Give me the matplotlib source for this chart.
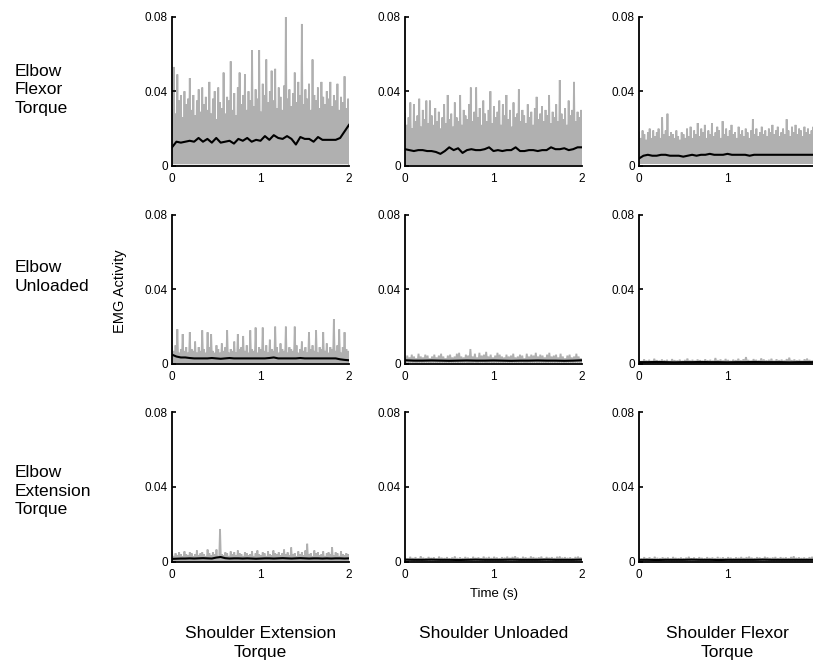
import numpy as np
import matplotlib
matplotlib.use("Agg")
import matplotlib.pyplot as plt

plt.rcParams['font.family'] = ['Liberation Sans', 'DejaVu Sans']

# ---------------- data (EMG activity, in units of 0.001) ----------------
row_labels = ["Elbow\nFlexor\nTorque", "Elbow\nUnloaded", "Elbow\nExtension\nTorque"]
col_labels = ["Shoulder Extension\nTorque", "Shoulder Unloaded", "Shoulder Flexor\nTorque"]
x_ticks = [0, 1, 2]
x_ticks_visible = [[0, 1, 2], [0, 1, 2], [0, 1]]   # the right column is cropped at 1.97 s
y_ticks = [0, 0.04, 0.08]
y_tick_labels = ["0", "0.04", "0.08"]

# gray single-trial envelope peaks (x spread evenly over 0..2 s)
peaks_00 = [30, 53, 28, 49, 35, 38, 26, 40, 33, 36, 47, 30, 38, 27, 35, 41, 29, 42, 33, 37,
            30, 45, 28, 36, 40, 25, 42, 34, 31, 50, 28, 37, 35, 56, 30, 39, 27, 42, 50, 33,
            38, 49, 30, 40, 35, 62, 32, 41, 36, 62, 29, 44, 38, 57, 34, 40, 51, 35, 52, 31,
            42, 37, 30, 43, 80, 36, 41, 32, 39, 50, 34, 45, 38, 76, 33, 41, 36, 44, 30, 57,
            38, 35, 42, 31, 45, 37, 33, 40, 36, 45, 32, 38, 35, 44, 30, 37, 34, 48, 31, 36]
peaks_01 = [28, 22, 26, 34, 20, 33, 24, 27, 36, 21, 30, 25, 35, 23, 35, 27, 22, 31, 24, 29,
            20, 26, 33, 23, 38, 25, 28, 21, 34, 26, 24, 38, 22, 30, 27, 25, 33, 42, 24, 29,
            42, 26, 31, 22, 35, 28, 24, 30, 40, 23, 32, 26, 29, 35, 22, 33, 27, 38, 25, 30,
            21, 34, 26, 28, 41, 24, 30, 27, 23, 33, 26, 29, 22, 31, 37, 25, 28, 32, 24, 30,
            27, 38, 23, 29, 26, 33, 24, 46, 28, 25, 31, 22, 35, 27, 30, 45, 24, 29, 26, 30]
peaks_02 = [18, 15, 19, 17, 14, 18, 20, 15, 19, 16, 18, 20, 15, 26, 17, 19, 28, 16, 18, 17,
            15, 19, 16, 14, 18, 17, 15, 20, 16, 21, 15, 19, 17, 23, 16, 20, 18, 22, 15, 19,
            17, 23, 16, 18, 21, 19, 15, 24, 17, 20, 16, 19, 22, 17, 18, 15, 21, 17, 19, 16,
            20, 18, 15, 19, 25, 17, 20, 16, 18, 21, 17, 19, 16, 20, 18, 22, 17, 19, 21, 16,
            18, 20, 17, 25, 19, 16, 21, 18, 22, 17, 20, 19, 16, 21, 18, 20, 17, 19, 21, 18]
peaks_10 = [9, 7, 10, 18.6, 6, 8, 16, 7, 9, 6, 17, 8, 7, 12, 6, 9, 7, 18, 8, 6,
            17, 9, 16, 7, 6, 10, 8, 6, 11, 7, 9, 18, 6, 8, 7, 12, 6, 16, 8, 9,
            15, 7, 10, 6, 18, 8, 7, 19.5, 6, 9, 8, 19.5, 7, 10, 6, 13, 8, 7, 20, 9,
            6, 11, 8, 7, 20, 6, 9, 8, 7, 20, 10, 6, 8, 12, 7, 9, 6, 17, 8, 10,
            7, 18, 6, 9, 8, 17, 7, 11, 6, 9, 8, 24, 7, 10, 18.5, 6, 9, 17, 8, 7]
peaks_11 = [3, 4.5, 3.5, 5, 4, 3, 5.5, 4, 3.5, 5, 4.5, 3, 4, 5, 3.5, 4.5, 5.5, 4, 3, 4.5,
            5, 3.5, 4, 5.5, 6, 4, 3.5, 5, 4.5, 8, 4, 5.5, 3.5, 6, 4.5, 5, 6.5, 4, 5, 3.5,
            4.5, 6, 5, 4, 3.5, 5, 4, 4.5, 5.5, 3.5, 4, 5, 4.5, 3, 5.5, 4, 5, 4.5, 6, 4,
            5, 4.5, 3.5, 5, 6, 4, 4.5, 5, 3.5, 5.5, 4, 3, 4.5, 5, 3.5, 4, 5.5, 4, 3]
peaks_12 = [2, 1.5, 2.5, 1.8, 2.2, 1.6, 2.8, 2, 1.7, 2.4, 1.9, 2.2, 1.5, 2.6, 2, 1.8, 2.3, 1.6,
            2.1, 2.9, 1.8, 2.2, 1.7, 2.4, 2, 1.6, 2.5, 1.9, 2.2, 1.7, 3.2, 2, 2.4, 1.8, 2.7,
            2.1, 1.6, 2.3, 2, 2.8, 1.9, 2.5, 3.7, 2.1, 1.7, 2.6, 2.2, 1.8, 3, 2.4, 1.9, 2.2,
            2.8, 1.7, 2.5, 2, 2.3, 1.8, 2.6, 3.4, 2, 2.4, 1.9, 2.2, 1.7, 2.5, 2.9, 2.1, 1.8, 2.3]
peaks_20 = [5, 3, 4.5, 3.5, 5, 4, 3, 5.5, 4, 3.5, 5, 4.5, 3, 4, 6, 3.5, 4.5, 5, 4, 3,
            6.5, 4.5, 3.5, 5, 4, 6.5, 3, 17.5, 4, 3.5, 5, 4.5, 3, 5.5, 4, 5, 3.5, 6, 4.5, 4,
            3, 5, 4.5, 3.5, 4, 5.5, 3, 4.5, 6, 4, 3.5, 5, 4.5, 3, 5.5, 4, 3.5, 6, 4.5, 4,
            5, 3.5, 4.5, 6.5, 4, 5, 3.5, 7.6, 4, 4.5, 3, 5.5, 4, 5, 3.5, 6, 9.6, 4, 4.5, 3,
            6, 4.5, 5, 3.5, 4, 5.5, 3, 4.5, 5, 4, 7.7, 3.5, 5, 4.5, 3, 5.5, 4, 3.5, 4.5, 4]
peaks_21 = [2.2, 1.6, 2.6, 1.9, 2.4, 1.7, 2.9, 2.1, 1.8, 2.5, 2, 2.3, 1.6, 2.7, 2.1, 1.9, 2.4,
            1.7, 2.2, 2.8, 1.9, 2.3, 1.8, 2.5, 2.1, 1.7, 2.6, 2, 2.3, 1.8, 2.7, 2.1, 2.5, 1.9,
            2.6, 2.2, 1.7, 2.4, 2.1, 2.7, 2, 2.5, 2.9, 2.2, 1.8, 2.6, 2.3, 1.9, 2.8, 2.4, 2,
            2.3, 2.7, 1.8, 2.5, 2.1, 2.4, 1.9, 2.6, 2.8, 2.1, 2.4, 2, 2.3, 1.8, 2.5, 2.7, 2.2]
peaks_22 = [2, 1.6, 2.4, 1.8, 2.3, 1.7, 2.6, 2, 1.8, 2.3, 1.9, 2.2, 1.6, 2.5, 2, 1.8, 2.2,
            1.7, 2.1, 2.6, 1.8, 2.2, 1.7, 2.4, 2, 1.7, 2.4, 1.9, 2.2, 1.8, 2.5, 2, 2.3, 1.8,
            2.4, 2.1, 1.7, 2.3, 2, 2.5, 1.9, 2.4, 2.7, 2.1, 1.8, 2.4, 2.2, 1.8, 2.6, 2.3, 1.9,
            2.2, 2.5, 1.8, 2.4, 2, 2.3, 1.8, 2.5, 2.9, 2, 2.3, 1.9, 2.2, 1.8, 2.4, 2.6, 2.1]

# lower edge of the gray trials
floor_vals = [[1.0, 0.8, 1.2],
              [0.6, 0.5, 0.4],
              [0.5, 0.4, 0.4]]

# black mean trace (x spread evenly over 0..2 s)
mean_00 = [10, 13, 12.5, 13, 13.5, 13, 15, 13, 14.5, 12.5, 15, 12.5, 13, 13.5, 12, 14.5, 13.5,
           15, 13, 14, 13.5, 16, 14, 16.5, 15, 14.5, 16, 14.5, 11.5, 15.5, 14.5, 14.5, 13,
           15.5, 14, 14, 14, 14, 15, 18.5, 22]
mean_01 = [9, 8.5, 8, 8.5, 8.5, 8, 8, 7.5, 6.5, 8, 10, 8.5, 9.5, 7, 8.5, 9, 8.5, 8.5, 9, 10,
           8, 8.5, 8, 8.5, 8.5, 10, 8, 8, 8.5, 8.5, 8, 8.5, 8.5, 10, 9, 9, 9.5, 8.5, 9, 10, 10]
mean_02 = [4, 5.5, 6, 5.5, 5.5, 6, 6, 5.5, 5.5, 5.5, 5, 5.5, 6, 5.5, 6, 6, 6.5, 6, 6, 6, 6.5,
           6, 6, 6, 6, 5.5, 6, 6, 6, 6, 6, 6, 6, 6, 6, 6, 6, 6, 6, 6, 6]
mean_10 = [5, 4, 3.5, 3.5, 3.2, 3, 3, 3, 3, 3.2, 3, 2.8, 3, 3.2, 3, 3, 3, 3, 3, 3, 3, 3, 3.2,
           3.5, 3, 3, 3, 3, 3, 3.2, 3, 3, 3, 3, 3, 3, 3, 3, 2.5, 2.2, 2]
mean_11 = [2, 1.8, 1.8, 1.9, 1.8, 1.7, 1.8, 1.9, 1.8, 1.8, 1.9, 1.8, 1.7, 1.8, 1.8, 1.9, 1.8,
           1.8, 1.7, 1.8, 2]
mean_12 = [1.0, 1.0, 1.1, 1.0, 0.9, 1.0, 1.0, 1.1, 1.0, 1.0, 0.9, 1.0, 1.0, 1.1, 1.0, 1.0, 1.0,
           0.9, 1.0, 1.0, 1.0]
mean_20 = [1.5, 1.6, 1.7, 1.7, 1.8, 1.7, 1.8, 1.9, 1.8, 1.7, 2.2, 2.5, 1.9, 1.7, 1.8, 1.8, 1.7,
           1.8, 1.7, 1.6, 1.7, 1.8, 1.8, 1.7, 1.8, 1.9, 1.8, 1.7, 1.8, 1.9, 1.8, 1.7, 1.8, 1.8,
           1.7, 1.8, 1.7, 1.8, 1.8, 1.7, 1.8]
mean_21 = [1.1, 1.0, 1.0, 1.1, 1.0, 1.0, 0.9, 1.0, 1.1, 1.0, 1.0, 1.0, 1.1, 1.0, 1.0, 1.0, 1.1,
           1.0, 1.0, 1.0, 1.1]
mean_22 = [1.0, 1.0, 0.9, 1.0, 1.0, 1.0, 1.1, 1.0, 1.0, 0.9, 1.0, 1.0, 1.0, 1.0, 1.1, 1.0, 1.0,
           1.0, 1.0, 1.0, 1.0]

peaks = [[peaks_00, peaks_01, peaks_02],
         [peaks_10, peaks_11, peaks_12],
         [peaks_20, peaks_21, peaks_22]]
means = [[mean_00, mean_01, mean_02],
         [mean_10, mean_11, mean_12],
         [mean_20, mean_21, mean_22]]
UNIT = 0.001

# ---------------- figure ----------------
W, H = 813, 668
fig = plt.figure(figsize=(W / 100, H / 100), dpi=100)

col_left_px = [172, 405, 639]
row_zero_px = [166, 364, 561.7]   # pixel row (from top) of y = 0
ax_w_px, ax_h_px = 177, 149.5

GRAY = "#b0b0b0"
tick_fs = 8.5

for r in range(3):
    for c in range(3):
        ax = fig.add_axes([col_left_px[c] / W, (H - row_zero_px[r]) / H,
                           ax_w_px / W, ax_h_px / H])
        p = np.asarray(peaks[r][c], dtype=float) * UNIT
        n = len(p)
        yy = np.empty(2 * n)
        yy[0::2] = p
        yy[1::2] = floor_vals[r][c] * UNIT
        xx = np.linspace(0, 2, 2 * n)
        ax.plot(xx, yy, color=GRAY, lw=1.3, solid_joinstyle="miter", zorder=1)
        m = np.asarray(means[r][c], dtype=float) * UNIT
        ax.plot(np.linspace(0, 2, len(m)), m, color="black", lw=1.5, zorder=2)

        ax.set_xlim(0, 2)
        ax.set_ylim(0, 0.08)
        for s in ("top", "right"):
            ax.spines[s].set_visible(False)
        ax.spines["left"].set_linewidth(1.3)
        ax.spines["bottom"].set_linewidth(1.3)
        ax.spines["left"].set_zorder(3)
        xt = x_ticks_visible[c]
        ax.set_xticks(xt)
        ax.set_xticklabels([str(t) for t in xt], fontsize=tick_fs)
        ax.set_yticks(y_ticks)
        ax.set_yticklabels(y_tick_labels, fontsize=tick_fs)
        ax.tick_params(axis="x", length=0, pad=5)
        ax.tick_params(axis="y", direction="in", length=3, width=1.2, pad=3)
        ax.patch.set_visible(False)

# row labels
row_center_px = [90, 277, 491]
for r in range(3):
    fig.text(15 / W, (H - row_center_px[r]) / H, row_labels[r], ha="left", va="center",
             fontsize=12.5, linespacing=1.3)

# column labels
for c in range(3):
    cx = (col_left_px[c] + ax_w_px / 2) / W
    fig.text(cx, (H - 626) / H, col_labels[c], ha="center", va="top",
             fontsize=12.5, linespacing=1.3)

fig.text(120 / W, (H - 291) / H, "EMG Activity", rotation=90, ha="center", va="center",
         fontsize=10.5)
fig.text((col_left_px[1] + ax_w_px / 2) / W, (H - 594) / H, "Time (s)", ha="center",
         va="center", fontsize=9.5)

fig.savefig("out.png", dpi=100)
